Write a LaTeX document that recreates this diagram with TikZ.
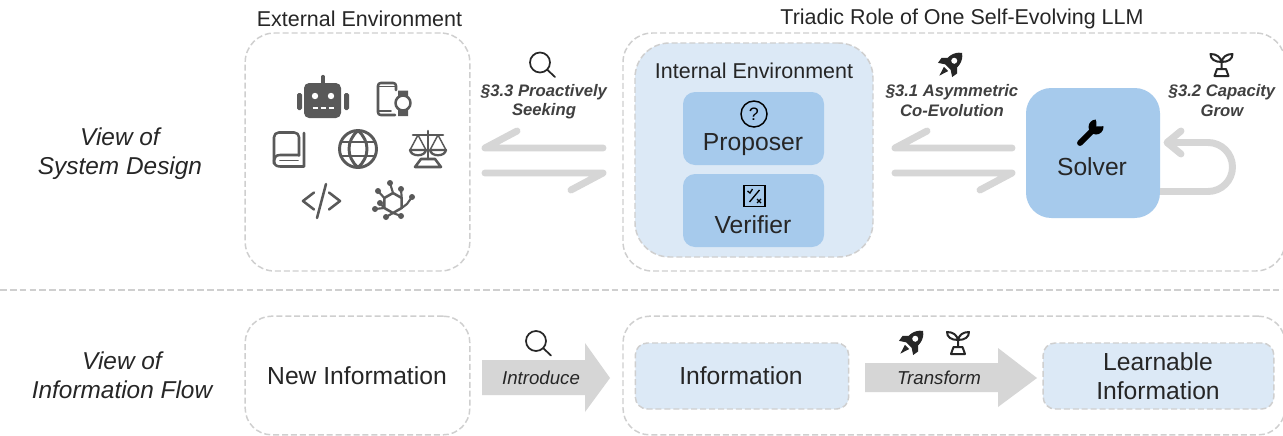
\documentclass[tikz,border=0pt]{standalone}
\usepackage{fontspec}
\setmainfont{Liberation Sans}
\newcommand{\fs}[1]{\fontsize{#1}{#1}\selectfont}
\definecolor{dashgray}{HTML}{CFCFCF}
\definecolor{arrowgray}{HTML}{D6D6D6}
\definecolor{lightblue}{HTML}{DCE9F6}
\definecolor{midblue}{HTML}{A6CAEC}
\definecolor{icongray}{HTML}{595959}
\definecolor{inkdark}{HTML}{262626}
\definecolor{labelgray}{HTML}{404040}
\tikzset{
  frame/.style={draw=dashgray,dashed,dash pattern=on 4.5pt off 2.2pt,line width=1.1pt,fill=white,inner sep=0pt,outer sep=0pt},
  softbox/.style={frame,fill=lightblue},
  solidbox/.style={fill=midblue,inner sep=0pt,outer sep=0pt,text=inkdark},
  viewlabel/.style={font=\fs{18.3}\itshape,text=inkdark},
  title/.style={font=\fs{16.1},text=inkdark},
  big/.style={font=\fs{18.5},text=inkdark},
  seclabel/.style={font=\fs{12.5}\bfseries\itshape,text=labelgray},
  arrowlabel/.style={font=\fs{14}\itshape,text=inkdark},
  halfarrow/.style={draw=arrowgray,line width=5.2pt,line cap=round,line join=round},
  blockarrow/.style={fill=arrowgray},
  ic/.style={draw=icongray,line width=1.9pt,line cap=round,line join=round},
  mag/.pic={
    \draw[draw=inkdark,line width=1.3pt,line cap=round] (0,0) circle (10) (7,7) -- (15,14.5);
  },
  rocket/.pic={
    \begin{scope}[rotate=45]
      \fill[inkdark] (0,-17) .. controls (7.5,-12) and (8,-2) .. (5,3) -- (-5,3) .. controls (-8,-2) and (-7.5,-12) .. (0,-17) -- cycle;
      \fill[inkdark] (-6,-4) -- (-11,1) -- (-10,7) -- (-4,3) -- cycle (6,-4) -- (11,1) -- (10,7) -- (4,3) -- cycle;
      \fill[inkdark] (-3,5.5) -- (0,15) -- (3,5.5) -- cycle;
      \fill[white] (0,-6) circle (3);
    \end{scope}
  },
  sprout/.pic={
    \draw[draw=inkdark,line width=1.5pt,line join=round,line cap=round]
      (0,3) -- (0,-4)
      (0,-3) .. controls (-1,-8) and (-5,-11) .. (-11,-11) .. controls (-11,-6) and (-7,-3) .. (0,-3)
      (0,-3) .. controls (1,-8) and (5,-11) .. (11,-11) .. controls (11,-6) and (7,-3) .. (0,-3)
      (-4.5,4) -- (4.5,4) -- (7,11) -- (-7,11) -- cycle;
  },
  robot/.pic={
    \fill[icongray,rounded corners=3.8pt] (-19,-15) rectangle (18,20);
    \fill[icongray,rounded corners=1.2pt] (-26,-5) rectangle (-21,12) (21,-5) rectangle (26,12);
    \draw[draw=icongray,line width=2.4pt,line cap=round] (0,-21.5) -- (0,-15);
    \fill[white] (-8,-2) circle (3.2) (8,-2) circle (3.2);
    \draw[draw=white,line width=1.8pt,dash pattern=on 4.2pt off 1.8pt] (-10.5,10) -- (10.5,10);
  },
  devices/.pic={
    \draw[ic,rounded corners=2pt] (14,-9.5) -- (14,-16.5) -- (-4,-16.5) -- (-4,15.5) -- (13,15.5);
    \draw[ic,line width=1.4pt] (-4,-13) -- (14,-13) (-4,11.5) -- (9,11.5);
    \draw[ic] (21,3.5) circle (7.5);
    \fill[icongray] (16,-9) rectangle (26,-3.5) (16,10.5) rectangle (26,16.5);
  },
  book/.pic={
    \draw[ic,rounded corners=3.5pt] (10,6) -- (10,-17) -- (-15,-17) -- (-15,14);
    \draw[ic] (10,5.5) -- (-9,5.5) .. controls (-13,5.5) and (-15,8) .. (-15,11) .. controls (-15,15) and (-13,17) .. (-9,17) -- (15,17) -- (15,-16.5);
    \draw[ic,line width=1.4pt] (-9,11) -- (9,11);
  },
  globe/.pic={
    \draw[ic,line width=2.2pt] (0,0) circle (18.5);
    \draw[ic,line width=2.2pt] (-17,-7) -- (17,-7) (-17,7) -- (17,7);
    \draw[ic,line width=2.2pt] (0,-18.5) .. controls (-12,-8) and (-12,8) .. (0,18.5);
    \draw[ic,line width=2.2pt] (0,-18.5) .. controls (12,-8) and (12,8) .. (0,18.5);
  },
  scales/.pic={
    \draw[ic] (0,-18) -- (0,10) (-15,-14) -- (15,-14);
    \draw[ic] (-13,18) -- (-7,10) -- (7,10) -- (13,18) -- cycle;
    \draw[ic,line width=1.1pt] (-10,-14) -- (-18,1) (-10,-14) -- (-2,1) (10,-14) -- (2,1) (10,-14) -- (18,1);
    \draw[ic,line width=1.7pt] (-18,1) -- (-2,1) .. controls (-3,8) and (-17,8) .. (-18,1);
    \draw[ic,line width=1.7pt] (2,1) -- (18,1) .. controls (17,8) and (3,8) .. (2,1);
  },
  codeicon/.pic={
    \draw[ic] (-7,-8.5) -- (-18,0) -- (-7,8.5) (8,-8.5) -- (19,0) -- (8,8.5) (5,-17) -- (-4,17);
  },
  netw/.pic={
    \draw[ic] (0,-10) -- (8.7,-5) -- (8.7,5) -- (0,10) -- (-8.7,5) -- (-8.7,-5) -- cycle;
    \draw[ic,line width=1.6pt] (0,-10) -- (-3,-20) (-8.7,-5) -- (-15,-12) (8.7,-5) -- (8,-14) (8.7,5) -- (14,1) -- (19,-6) (-8.7,5) -- (-13,0) (-8.7,5) -- (-18,6) (0,10) -- (-7,14) (0,10) -- (8,13);
    \foreach \p in {(-3,-20),(-15,-12),(8,-14),(19,-6),(-13,0),(-18,6),(-7,14),(8,13)}
      \fill[icongray] \p circle (3);
  },
  qicon/.pic={
    \draw[draw=black,line width=1.1pt] (0,0) circle (13);
    \node[font=\fs{13.5},text=black,inner sep=0pt] (q) at (0,0) {?};
  },
  vicon/.pic={
    \draw[draw=black,line width=1.2pt] (-10.5,-10.5) rectangle (10.5,10.5);
    \draw[draw=black,line width=1pt] (5,-6) -- (-5,6) (-7,-5) -- (-4.5,-3) -- (-2,-7) (2.5,3) -- (6.5,7) (6.5,3) -- (2.5,7);
  },
  wrench/.pic={
    \draw[draw=black,line width=4.4pt,line cap=round] (-10,11) -- (5,-4);
    \fill[black] (6,-5) circle (7.5);
    \fill[midblue] (6.5,-5.5) -- (6,-16) -- (17,-16) -- (17,-6) -- cycle;
  },
}
\begin{document}
\begin{tikzpicture}[x=0.75pt,y=0.75pt,yscale=-1]
\clip[use as bounding box] (0,0) rectangle (1283,436);
\fill[white] (0,0) rectangle (1283,436);

% titles and left labels
\node[title] (texternal) at (359.5,19) {External Environment};
\node[title] (ttriadic) at (962,19) {Triadic Role of One Self-Evolving LLM};
\node[viewlabel,align=center] (vdesign) at (120,153.5) {View of\\[3.4pt]System Design};
\node[viewlabel,align=center] (vflow) at (122,375.5) {View of\\[3.4pt]Information Flow};

% top frames
\node[frame,rounded corners=22pt,minimum width=168.5pt,minimum height=178.5pt] (extbox) at (357.5,152) {};
\node[frame,rounded corners=22pt,minimum width=496.5pt,minimum height=178.5pt] (triadbox) at (954,152) {};
\node[softbox,rounded corners=26pt,minimum width=178.5pt,minimum height=160.5pt] (internal) at (754,150) {};
\node[title] (tinternal) at (754,71) {Internal Environment};

\node[solidbox,rounded corners=9pt,minimum width=105.75pt,minimum height=54.75pt] (proposer) at (753.5,128.5) {};
\node[big] (tproposer) at (753,145) {Proposer};
\node[solidbox,rounded corners=9pt,minimum width=105.75pt,minimum height=54.75pt] (verifier) at (753.5,210.5) {};
\node[big] (tverifier) at (753,225) {Verifier};
\node[solidbox,rounded corners=19pt,minimum width=100.5pt,minimum height=97.5pt] (solver) at (1093,153) {};
\node[big] (tsolver) at (1092,167) {Solver};

% icons in the frames
\pic[yscale=-1] at (323,98) {robot};
\pic[yscale=-1] at (382,99.5) {devices};
\pic[yscale=-1] at (289,149.5) {book};
\pic[yscale=-1] at (358,149) {globe};
\pic[yscale=-1] at (428,149) {scales};
\pic[yscale=-1] at (321,201) {codeicon};
\pic[yscale=-1] at (393,203) {netw};
\pic[yscale=-1] at (754,114) {qicon};
\pic[yscale=-1] at (754.5,196) {vicon};
\pic[yscale=-1] at (1090,132) {wrench};

% half arrows
\coordinate (a1r) at (603,148); \coordinate (a1l) at (485,148); \coordinate (a1b) at (517,131);
\coordinate (a2l) at (485,173); \coordinate (a2r) at (603,173); \coordinate (a2b) at (571,190);
\coordinate (a3r) at (1012,148); \coordinate (a3l) at (895,148); \coordinate (a3b) at (927,131);
\coordinate (a4l) at (895,173); \coordinate (a4r) at (1012,173); \coordinate (a4b) at (980,190);
\draw[halfarrow] (a1r) -- (a1l) -- (a1b);
\draw[halfarrow] (a2l) -- (a2r) -- (a2b);
\draw[halfarrow] (a3r) -- (a3l) -- (a3b);
\draw[halfarrow] (a4l) -- (a4r) -- (a4b);

% loop on the solver
\coordinate (lp1) at (1160,191.5); \coordinate (lp2) at (1208,191.5);
\coordinate (lp4) at (1167,142.5); \coordinate (lp5) at (1181,131); \coordinate (lp6) at (1181,154);
\draw[halfarrow,line cap=butt] (lp1) -- (lp2) arc (90:-90:24.5) -- (lp4);
\draw[halfarrow] (lp5) -- (lp4) -- (lp6);

% section labels and their icons
\pic[yscale=-1] at (540,62.5) {mag};
\node[seclabel] (s33a) at (544,92) {§3.3 Proactively};
\node[seclabel] (s33b) at (544,111) {Seeking};
\pic[yscale=-1] at (950,65) {rocket};
\node[seclabel] (s31a) at (952,92) {§3.1 Asymmetric};
\node[seclabel] (s31b) at (952,111) {Co-Evolution};
\pic[yscale=-1] at (1221.5,65) {sprout};
\node[seclabel] (s32a) at (1222,92) {§3.2 Capacity};
\node[seclabel] (s32b) at (1222,111) {Grow};

% separator
\coordinate (sepl) at (0,290); \coordinate (sepr) at (1283,290);
\draw[draw=dashgray,line width=1.1pt,dash pattern=on 5pt off 2.4pt] (sepl) -- (sepr);

% lower row
\node[frame,rounded corners=20pt,minimum width=168.5pt,minimum height=89pt] (newbox) at (357.5,375.5) {};
\node[big] (tnew) at (357,376) {New Information};
\node[frame,rounded corners=20pt,minimum width=496.5pt,minimum height=89pt] (flowbox) at (954,375.5) {};
\node[softbox,rounded corners=9pt,minimum width=160pt,minimum height=49.5pt] (info) at (742,376) {};
\node[big] (tinfo) at (741,376) {Information};
\node[softbox,rounded corners=9pt,minimum width=173pt,minimum height=49.5pt] (learn) at (1158.5,376) {};
\node[big,align=center] (tlearn) at (1158,376.5) {Learnable\\[3pt]Information};

\fill[blockarrow] (482,360) -- (585,360) -- (585,343) -- (610,378) -- (585,412) -- (585,395) -- (482,395) -- cycle;
\node[arrowlabel] (tintro) at (541,378) {Introduce};
\fill[blockarrow] (865,363) -- (998,363) -- (998,348) -- (1037,378) -- (998,407) -- (998,392) -- (865,392) -- cycle;
\node[arrowlabel] (ttrans) at (939,378) {Transform};
\pic[yscale=-1] at (536,341) {mag};
\pic[yscale=-1] at (911,343) {rocket};
\pic[yscale=-1] at (958,343) {sprout};
\end{tikzpicture}
\end{document}
